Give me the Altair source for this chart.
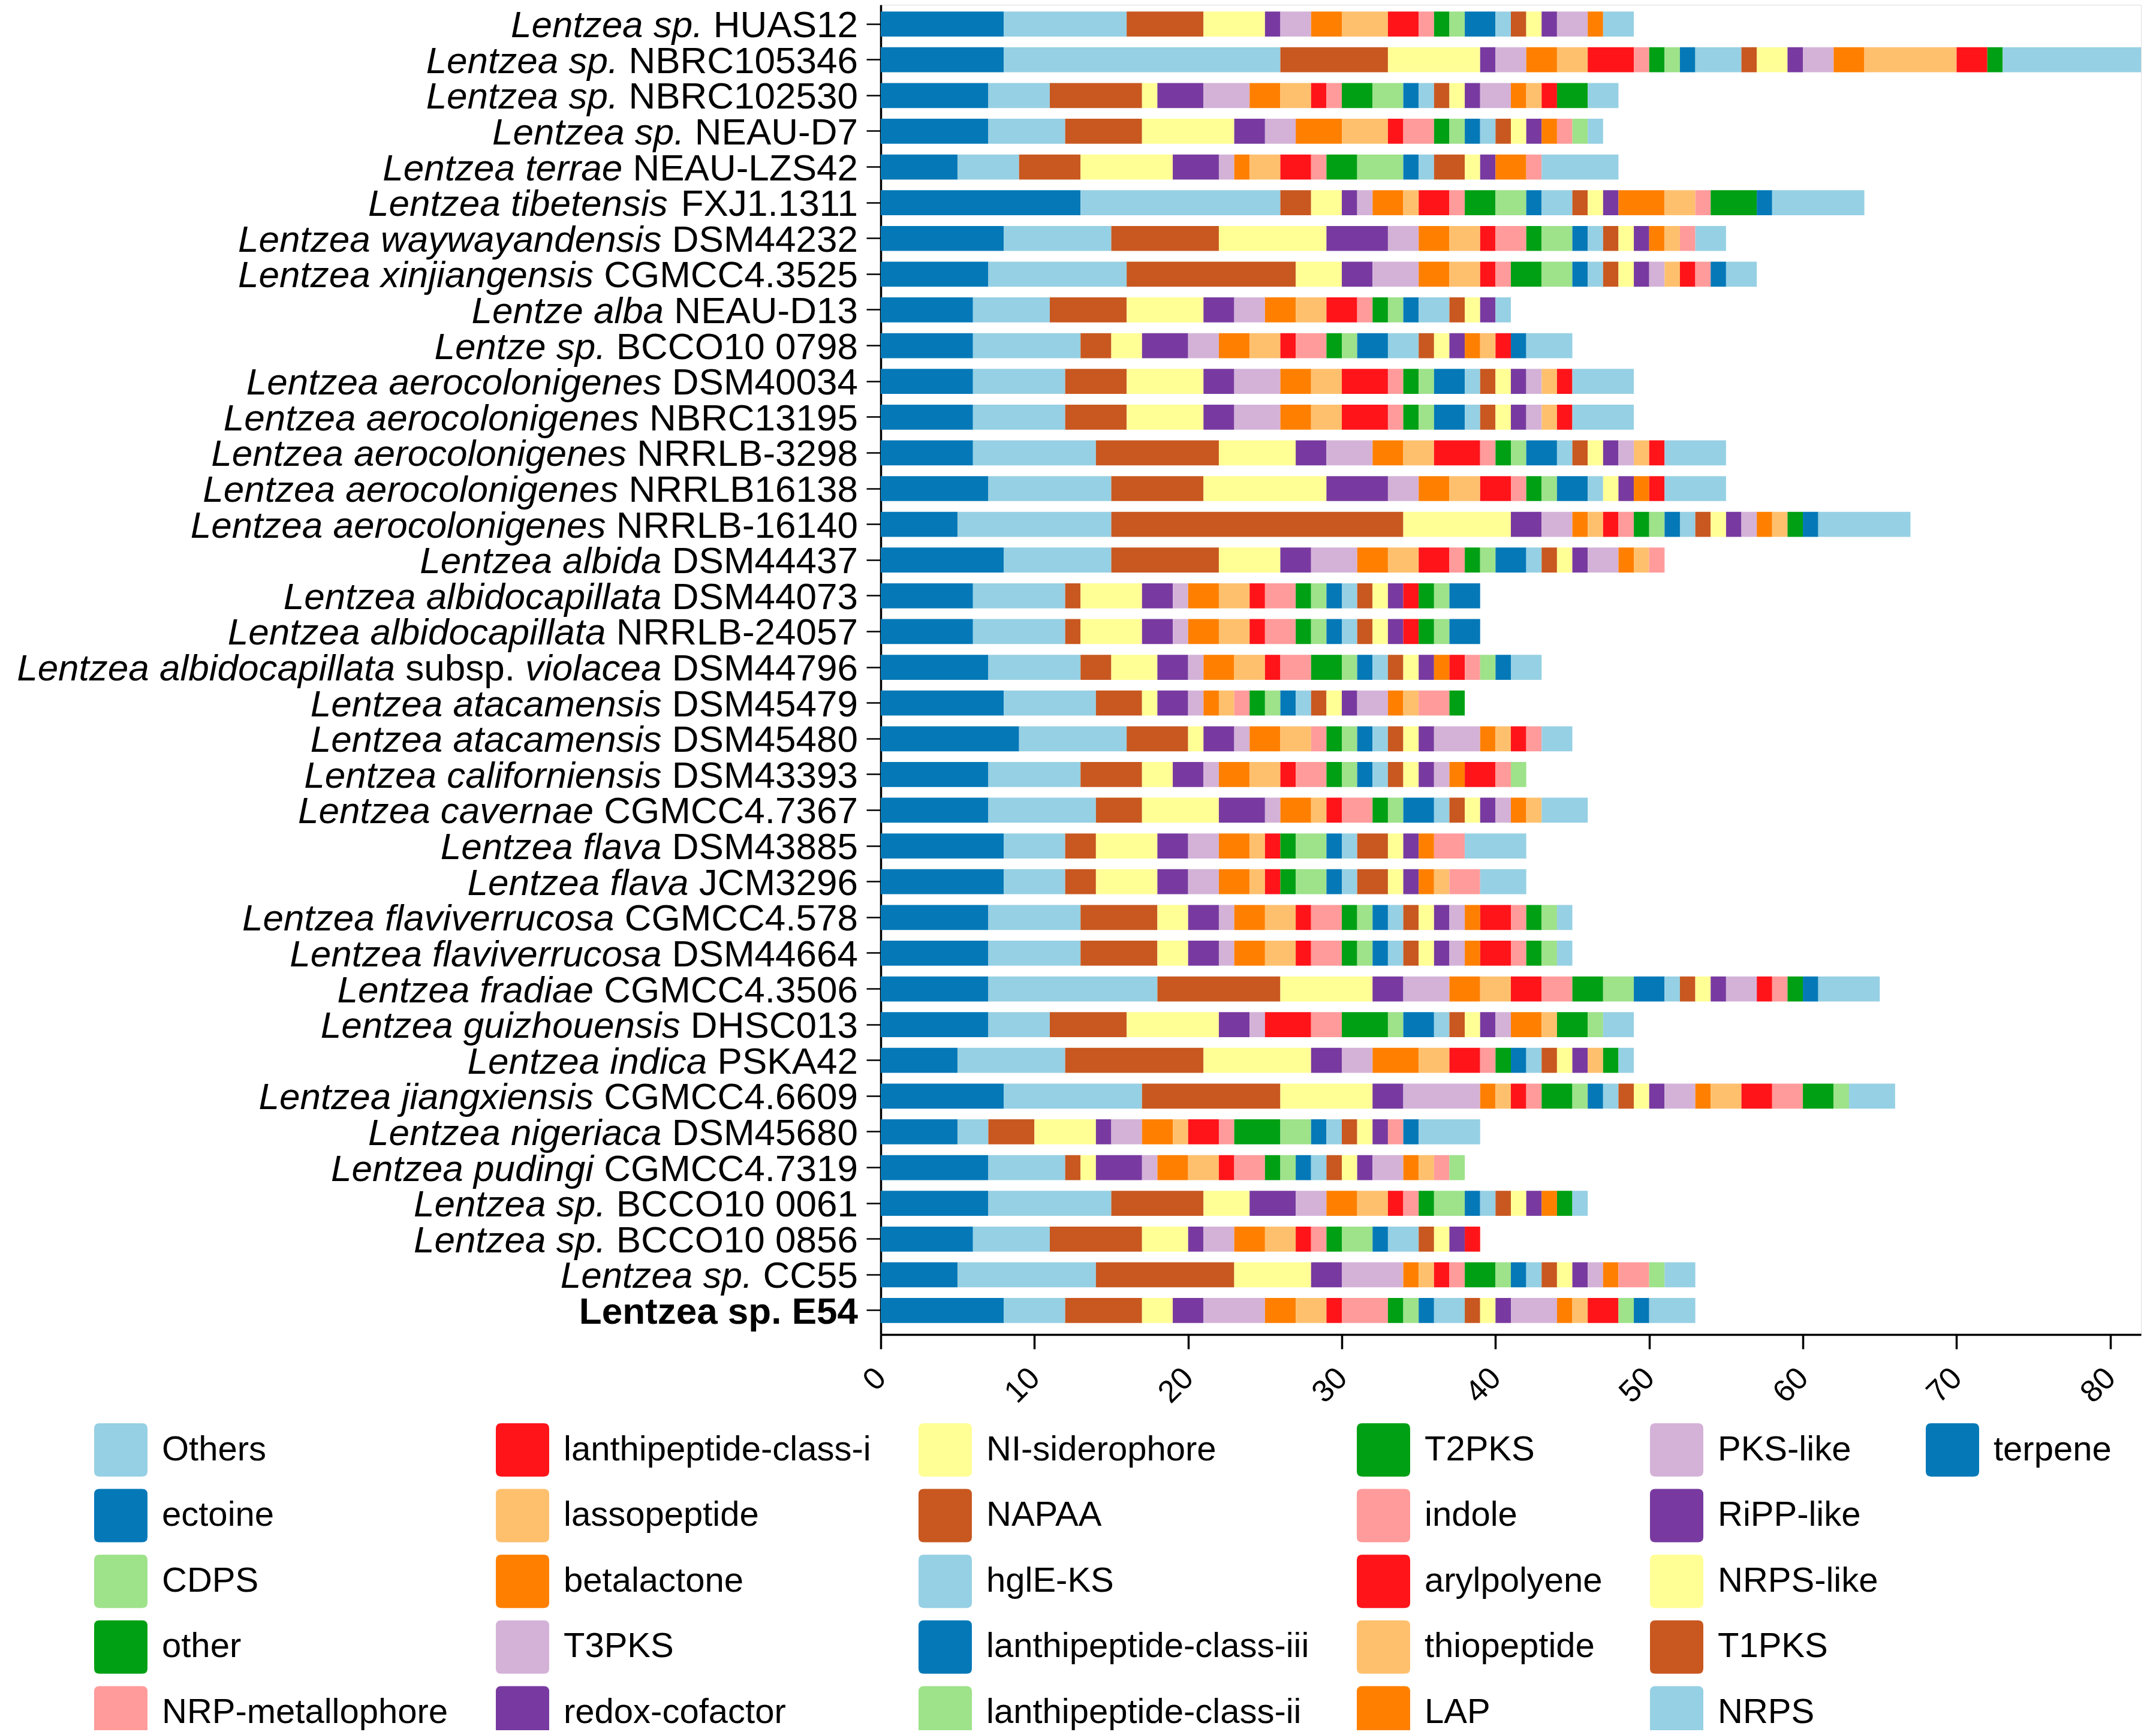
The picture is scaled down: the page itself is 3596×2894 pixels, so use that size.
import altair as alt
import pandas as pd

# ---------------- data ----------------
LABEL_SEGMENTS = [
    [("Lentzea sp.", "italic"), ("HUAS12", "normal")],
    [("Lentzea sp.", "italic"), ("NBRC105346", "normal")],
    [("Lentzea sp.", "italic"), ("NBRC102530", "normal")],
    [("Lentzea sp.", "italic"), ("NEAU-D7", "normal")],
    [("Lentzea terrae", "italic"), ("NEAU-LZS42", "normal")],
    [("Lentzea tibetensis", "italic"), ("FXJ1.1311", "normal")],
    [("Lentzea waywayandensis", "italic"), ("DSM44232", "normal")],
    [("Lentzea xinjiangensis", "italic"), ("CGMCC4.3525", "normal")],
    [("Lentze alba", "italic"), ("NEAU-D13", "normal")],
    [("Lentze sp.", "italic"), ("BCCO10 0798", "normal")],
    [("Lentzea aerocolonigenes", "italic"), ("DSM40034", "normal")],
    [("Lentzea aerocolonigenes", "italic"), ("NBRC13195", "normal")],
    [("Lentzea aerocolonigenes", "italic"), ("NRRLB-3298", "normal")],
    [("Lentzea aerocolonigenes", "italic"), ("NRRLB16138", "normal")],
    [("Lentzea aerocolonigenes", "italic"), ("NRRLB-16140", "normal")],
    [("Lentzea albida", "italic"), ("DSM44437", "normal")],
    [("Lentzea albidocapillata", "italic"), ("DSM44073", "normal")],
    [("Lentzea albidocapillata", "italic"), ("NRRLB-24057", "normal")],
    [("Lentzea albidocapillata", "italic"), ("subsp.", "normal"), ("violacea", "italic"), ("DSM44796", "normal")],
    [("Lentzea atacamensis", "italic"), ("DSM45479", "normal")],
    [("Lentzea atacamensis", "italic"), ("DSM45480", "normal")],
    [("Lentzea californiensis", "italic"), ("DSM43393", "normal")],
    [("Lentzea cavernae", "italic"), ("CGMCC4.7367", "normal")],
    [("Lentzea flava", "italic"), ("DSM43885", "normal")],
    [("Lentzea flava", "italic"), ("JCM3296", "normal")],
    [("Lentzea flaviverrucosa", "italic"), ("CGMCC4.578", "normal")],
    [("Lentzea flaviverrucosa", "italic"), ("DSM44664", "normal")],
    [("Lentzea fradiae", "italic"), ("CGMCC4.3506", "normal")],
    [("Lentzea guizhouensis", "italic"), ("DHSC013", "normal")],
    [("Lentzea indica", "italic"), ("PSKA42", "normal")],
    [("Lentzea jiangxiensis", "italic"), ("CGMCC4.6609", "normal")],
    [("Lentzea nigeriaca", "italic"), ("DSM45680", "normal")],
    [("Lentzea pudingi", "italic"), ("CGMCC4.7319", "normal")],
    [("Lentzea sp.", "italic"), ("BCCO10 0061", "normal")],
    [("Lentzea sp.", "italic"), ("BCCO10 0856", "normal")],
    [("Lentzea sp.", "italic"), ("CC55", "normal")],
    [("Lentzea sp. E54", "bold")],
]

# stacking order (left to right inside each bar)
CATEGORIES = [
    "terpene", "NRPS", "T1PKS", "NRPS-like", "RiPP-like", "PKS-like", "LAP",
    "thiopeptide", "arylpolyene", "indole", "T2PKS", "lanthipeptide-class-ii",
    "lanthipeptide-class-iii", "hglE-KS", "NAPAA", "NI-siderophore",
    "redox-cofactor", "T3PKS", "betalactone", "lassopeptide",
    "lanthipeptide-class-i", "NRP-metallophore", "other", "CDPS", "ectoine", "Others",
]

terpene = [8,8,7,7,5,13,8,7,6,6,6,6,6,7,5,8,6,6,7,8,9,7,7,8,8,7,7,7,7,5,8,5,7,7,6,5,8]
NRPS = [8,18,4,5,4,13,7,9,5,7,6,6,8,8,10,7,6,6,6,6,7,6,7,4,4,6,6,11,4,7,9,2,5,8,5,9,4]
T1PKS = [5,7,6,5,4,2,7,11,5,2,4,4,8,6,19,7,1,1,2,3,4,4,3,2,2,5,5,8,5,9,9,3,1,6,6,9,5]
NRPS_like = [4,6,1,6,6,2,7,3,5,2,5,5,5,8,7,4,4,4,3,1,1,2,5,4,4,2,2,6,6,7,6,4,1,3,3,5,2]
RiPP_like = [1,1,3,2,3,1,4,2,2,3,2,2,2,4,2,2,2,2,2,2,2,2,3,2,2,2,2,2,2,2,2,1,3,3,1,2,2]
PKS_like = [2,2,3,2,1,1,2,3,2,2,3,3,3,2,2,3,1,1,1,1,1,1,1,2,2,1,1,3,1,2,5,2,1,2,2,4,4]
LAP = [2,2,2,3,1,2,2,2,2,2,2,2,2,2,1,2,2,2,2,1,2,2,2,2,2,2,2,2,0,3,1,2,2,2,2,1,2]
thiopeptide = [3,2,2,3,2,1,2,2,2,2,2,2,2,2,1,2,2,2,2,1,2,2,1,1,1,2,2,2,0,2,1,1,2,2,2,1,2]
arylpolyene = [2,3,1,1,2,2,1,1,2,1,3,3,3,2,1,2,1,1,1,0,0,1,1,1,1,1,1,2,3,2,1,2,1,1,1,1,1]
indole = [1,1,1,2,1,1,2,1,1,2,1,1,1,1,1,1,2,2,2,1,1,2,2,0,0,2,2,2,2,1,1,1,2,1,1,1,3]
T2PKS = [1,1,2,1,2,2,1,2,1,1,1,1,1,1,1,1,1,1,2,1,1,1,1,1,1,1,1,2,3,1,2,3,1,1,1,2,1]
lanthi_ii = [1,1,2,1,3,2,2,2,1,1,1,1,1,1,1,1,1,1,1,1,1,1,1,2,2,1,1,2,1,0,1,2,1,2,2,1,1]
lanthi_iii = [2,1,1,1,1,1,1,1,1,2,2,2,2,2,1,2,1,1,1,1,1,1,2,1,1,1,1,2,2,1,1,1,1,1,1,1,1]
hglE_KS = [1,3,1,1,1,2,1,1,2,2,1,1,1,1,1,1,1,1,1,1,1,1,1,1,1,1,1,1,1,1,1,1,1,1,2,1,2]
NAPAA = [1,1,1,1,2,1,1,1,1,1,1,1,1,0,1,1,1,1,1,1,1,1,1,2,2,1,1,1,1,1,1,1,1,1,1,1,1]
NI_siderophore = [1,2,1,1,1,1,1,1,1,1,1,1,1,1,1,1,1,1,1,1,1,1,1,1,1,1,1,1,1,1,1,1,1,1,1,1,1]
redox_cofactor = [1,1,1,1,1,1,1,1,1,1,1,1,1,1,1,1,1,1,1,1,1,1,1,1,1,1,1,1,1,1,1,1,1,1,1,1,1]
T3PKS = [2,2,2,0,0,0,0,1,0,0,1,1,1,0,1,2,0,0,0,2,3,1,1,0,0,1,1,2,1,0,2,0,2,0,0,1,3]
betalactone = [1,2,1,1,2,3,1,0,0,1,0,0,0,1,1,1,0,0,1,1,1,1,1,1,1,1,1,0,2,0,1,0,1,1,0,1,1]
lassopeptide = [0,6,1,0,0,2,1,1,0,1,1,1,1,0,1,1,0,0,0,1,1,0,1,0,1,0,0,0,1,1,2,0,1,0,0,0,1]
lanthi_i = [0,2,1,0,0,0,0,1,0,1,1,1,1,1,0,0,1,1,1,0,1,2,0,0,0,2,2,1,0,0,2,0,0,0,1,0,2]
NRP_metallophore = [0,0,0,1,1,1,1,1,0,0,0,0,0,0,0,1,0,0,1,2,1,1,0,2,2,1,1,1,0,0,2,1,1,0,0,2,0]
other = [0,1,2,0,0,3,0,0,0,0,0,0,0,0,1,0,1,1,0,1,0,0,0,0,0,1,1,1,2,1,2,0,0,1,0,0,0]
CDPS = [0,0,0,1,0,0,0,0,0,0,0,0,0,0,0,0,1,1,1,0,0,1,0,0,0,1,1,0,1,0,1,0,1,0,0,1,1]
ectoine = [0,0,0,0,0,1,0,1,0,1,0,0,0,0,1,0,2,2,1,0,0,0,0,0,0,0,0,1,0,0,0,1,0,0,0,0,1]
Others = [2,9,2,1,5,6,2,2,1,3,4,4,4,4,6,0,0,0,2,0,2,0,3,4,3,1,1,4,2,1,3,4,0,1,0,2,3]

SERIES = [terpene, NRPS, T1PKS, NRPS_like, RiPP_like, PKS_like, LAP, thiopeptide,
          arylpolyene, indole, T2PKS, lanthi_ii, lanthi_iii, hglE_KS, NAPAA,
          NI_siderophore, redox_cofactor, T3PKS, betalactone, lassopeptide,
          lanthi_i, NRP_metallophore, other, CDPS, ectoine, Others]

# 12 colours, repeated along the stack
PALETTE = ["#0579B8", "#96D0E4", "#C85820", "#FFFF96", "#783AA0", "#D4B2D8",
           "#FF8000", "#FFC06E", "#FF141A", "#FF9B9B", "#00A014", "#9EE28A"]

# legend, column by column (5 rows x 6 columns; blank fillers complete the last column)
LEGEND_ORDER = [
    "Others", "ectoine", "CDPS", "other", "NRP-metallophore",
    "lanthipeptide-class-i", "lassopeptide", "betalactone", "T3PKS", "redox-cofactor",
    "NI-siderophore", "NAPAA", "hglE-KS", "lanthipeptide-class-iii", "lanthipeptide-class-ii",
    "T2PKS", "indole", "arylpolyene", "thiopeptide", "LAP",
    "PKS-like", "RiPP-like", "NRPS-like", "T1PKS", "NRPS",
    "terpene", "_blank1", "_blank2", "_blank3", "_blank4",
]

# ---------------- layout constants ----------------
FONT = "Liberation Sans"
X_MAX = 82
PX_PER_UNIT = 25.63
PLOT_W = round(X_MAX * PX_PER_UNIT)
PLOT_H = 2218
LABEL_FS = 62
LABEL_GAP = 38

# Arial / Liberation Sans advance widths (per 1000 em)
CW = dict(zip("abcdefghijklmnopqrstuvwxyz",
              [556,556,500,556,556,278,556,556,222,222,500,222,833,556,556,556,556,333,500,278,556,500,722,500,500,500]))
CW.update(dict(zip("ABCDEFGHIJKLMNOPQRSTUVWXYZ",
                   [667,667,722,722,667,611,778,722,278,500,667,556,833,722,778,667,778,722,667,611,722,667,944,667,667,611])))
CW.update({d: 556 for d in "0123456789"})
CW.update({" ": 278, ".": 278, "-": 333})


def text_width(s, fs):
    return sum(CW.get(ch, 556) for ch in s) * fs / 1000.0


CAT_COLORS = {c: PALETTE[i % 12] if i < 12 else PALETTE[(i - 12) % 12]
              for i, c in enumerate(CATEGORIES)}

# ---------------- tables ----------------
FULL_LABELS = [" ".join(t for t, _ in segs) for segs in LABEL_SEGMENTS]

bar_rows = []
for si, lab in enumerate(FULL_LABELS):
    for ci, cat in enumerate(CATEGORIES):
        v = SERIES[ci][si]
        if v > 0:
            bar_rows.append({"label": lab, "cat": cat, "val": v, "ord": ci})
bars_df = pd.DataFrame(bar_rows)

lab_rows = []
for segs, lab in zip(LABEL_SEGMENTS, FULL_LABELS):
    right = -LABEL_GAP
    for t, style in reversed(segs):
        lab_rows.append({"label": lab, "txt": t, "style": style, "xu": right / PX_PER_UNIT})
        right -= text_width(t, LABEL_FS) + text_width(" ", LABEL_FS)
labels_df = pd.DataFrame(lab_rows)

legend_colors = [CAT_COLORS.get(c, "rgba(255,255,255,0)") for c in LEGEND_ORDER]

ROUNDED = ("M-1,-0.8 Q-1,-1 -0.8,-1 L0.8,-1 Q1,-1 1,-0.8 L1,0.8 Q1,1 0.8,1 "
           "L-0.8,1 Q-1,1 -1,0.8 Z")

y_enc = alt.Y(
    "label:N", sort=FULL_LABELS, title=None,
    scale=alt.Scale(domain=FULL_LABELS, paddingInner=0.3, paddingOuter=0.255, align=0.37),
    axis=alt.Axis(labels=False, title=None, grid=False, tickSize=24, tickWidth=2.5,
                  tickColor="black", domainColor="black", domainWidth=3.5, bandPosition=0.5),
)

bars = alt.Chart(bars_df).mark_bar(strokeWidth=0).encode(
    x=alt.X(
        "val:Q", stack="zero", title=None,
        scale=alt.Scale(domain=[0, X_MAX], nice=False, zero=True),
        axis=alt.Axis(values=list(range(0, 81, 10)), title=None, grid=False,
                      labelFontSize=52, labelFont=FONT, labelColor="black",
                      labelAngle=315, labelAlign="right", labelBaseline="middle",
                      labelPadding=40, labelFlush=False, labelOverlap=False,
                      tickSize=24, tickWidth=3.5, tickColor="black",
                      domainColor="black", domainWidth=3.5),
    ),
    y=y_enc,
    color=alt.Color(
        "cat:N",
        scale=alt.Scale(domain=LEGEND_ORDER, range=legend_colors),
        legend=alt.Legend(
            title=None, orient="none", legendX=157 - 1469, legendY=2366,
            columns=6, direction="vertical", padding=0,
            symbolType=ROUNDED, symbolSize=89 * 89, symbolStrokeWidth=0,
            symbolOpacity=1,
            labelFont=FONT, labelFontSize=58, labelColor="black",
            labelOffset=24, labelLimit=3000, rowPadding=20.6, columnPadding=79,
            labelExpr="indexof(datum.label, '_blank') == 0 ? '' : datum.label",
        ),
    ),
    order=alt.Order("ord:Q", sort="ascending"),
)


def label_layer(style, **kw):
    return alt.Chart(labels_df).transform_filter(
        alt.datum.style == style
    ).mark_text(align="right", baseline="middle", dy=3, font=FONT,
                fontSize=LABEL_FS, color="black", **kw).encode(
        x=alt.X("xu:Q", title=None),
        y=alt.Y("label:N", sort=FULL_LABELS, title=None),
        text="txt:N",
    )


italic_txt = label_layer("italic", fontStyle="italic")
normal_txt = label_layer("normal")
bold_txt = label_layer("bold", fontWeight="bold")

chart = alt.layer(bars, italic_txt, normal_txt, bold_txt).properties(
    width=PLOT_W,
    height=PLOT_H,
    padding={"left": 1461, "top": 0, "right": 3580 - 1461 - PLOT_W, "bottom": 660},
    autosize=alt.AutoSizeParams(type="none"),
).configure_view(strokeWidth=0).configure(background="white")

chart.save("out.html", embed_options={"renderer": "svg", "actions": False})
